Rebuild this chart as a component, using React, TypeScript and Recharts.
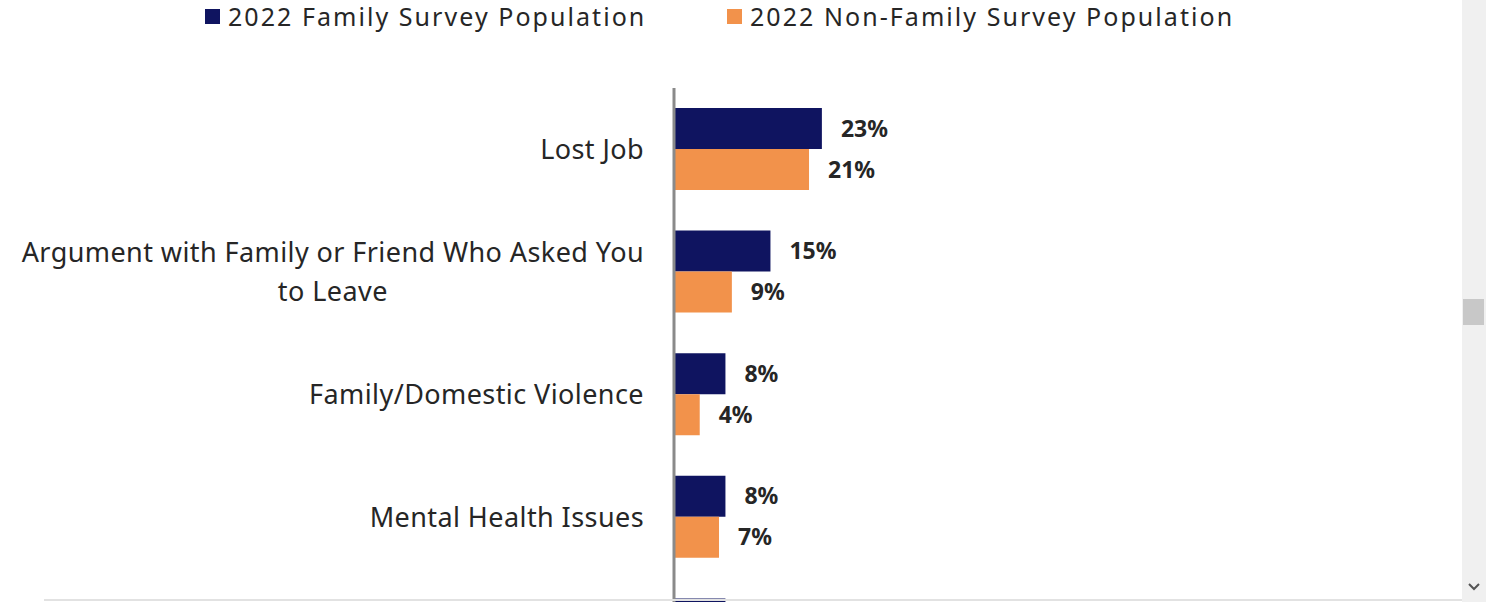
import React from 'react';
import { BarChart, Bar, XAxis, YAxis, Legend, LabelList } from 'recharts';

const categories = [
  'Lost Job',
  'Argument with Family or Friend Who Asked You\nto Leave',
  'Family/Domestic Violence',
  'Mental Health Issues',
  '',
];
const familyValues = [23, 15, 8, 8, 8];
const nonFamilyValues: (number | null)[] = [21, 9, 4, 7, null];
const shownLabelCount = 4;
const seriesNames = ['2022 Family Survey Population', '2022 Non-Family Survey Population'];
const seriesColors = ['#0f1460', '#f2924b'];

const data = categories.map((c, i) => ({
  category: c,
  family: familyValues[i],
  nonFamily: nonFamilyValues[i],
  familyLabel: i < shownLabelCount ? familyValues[i] : null,
  nonFamilyLabel: i < shownLabelCount ? nonFamilyValues[i] : null,
}));

const FONT = '"Noto Sans", "Open Sans", sans-serif';
const TICK_SIZE = 27;
const TICK_SPACING = 0.42;

let ctx: CanvasRenderingContext2D | null = null;
const measure = (t: string) => {
  if (!ctx) ctx = document.createElement('canvas').getContext('2d');
  if (!ctx) return t.length * 13;
  ctx.font = `${TICK_SIZE}px "Noto Sans"`;
  return ctx.measureText(t).width + t.length * TICK_SPACING;
};

const CategoryTick = (props: any) => {
  const { x, y, payload } = props;
  const lines = String(payload.value).split('\n');
  if (!lines[0]) return null;
  const lh = 39;
  const startY = y - ((lines.length - 1) * lh) / 2;
  const maxW = Math.max(...lines.map(measure));
  const multi = lines.length > 1;
  const cx = x - maxW / 2;
  return (
    <text fill="#262626" fontSize={TICK_SIZE} fontFamily={FONT} letterSpacing={TICK_SPACING}>
      {lines.map((l, i) => (
        <tspan key={i} x={multi ? cx : x} y={startY + i * lh} dy="0.36em" textAnchor={multi ? 'middle' : 'end'}>
          {l}
        </tspan>
      ))}
    </text>
  );
};

const LegendContent = () => (
  <div style={{ position: 'relative', height: 34, width: 1460, fontFamily: FONT }}>
    {seriesNames.map((n, i) => (
      <div
        key={n}
        style={{
          position: 'absolute',
          left: i === 0 ? 205 : 727,
          top: 1,
          height: 30,
          display: 'flex',
          alignItems: 'center',
          whiteSpace: 'nowrap',
        }}
      >
        <span style={{ width: 15, height: 15, background: seriesColors[i], display: 'inline-block', marginRight: 8 }} />
        <span style={{ fontSize: 25, lineHeight: '30px', color: '#262626', letterSpacing: 2.05 }}>{n}</span>
      </div>
    ))}
  </div>
);

const valueLabelStyle = { fontSize: 23, fontWeight: 700, fill: '#262626', fontFamily: FONT };
const fmt = (v: any) => (v == null ? '' : `${v}%`);

export default function App() {
  return (
    <div style={{ position: 'fixed', left: 0, top: 0, width: 1486, height: 602, overflow: 'hidden', background: '#fff' }}>
      <BarChart
        width={1460}
        height={701}
        data={data}
        layout="vertical"
        margin={{ top: 54, right: 143, bottom: 0, left: 0 }}
        barGap={0}
        barSize={41}
      >
        <Legend verticalAlign="top" content={<LegendContent />} wrapperStyle={{ top: 0, left: 0 }} />
        <XAxis type="number" domain={[0, 100]} hide />
        <YAxis
          type="category"
          dataKey="category"
          width={674}
          tickLine={false}
          tickSize={0}
          tickMargin={30}
          axisLine={{ stroke: '#8a8a8a', strokeWidth: 3 }}
          tick={<CategoryTick />}
          interval={0}
        />
        <Bar dataKey="family" name={seriesNames[0]} fill={seriesColors[0]} isAnimationActive={false}>
          <LabelList dataKey="familyLabel" position="right" offset={19} formatter={fmt} style={valueLabelStyle} />
        </Bar>
        <Bar dataKey="nonFamily" name={seriesNames[1]} fill={seriesColors[1]} isAnimationActive={false}>
          <LabelList dataKey="nonFamilyLabel" position="right" offset={19} formatter={fmt} style={valueLabelStyle} />
        </Bar>
      </BarChart>
      <div style={{ position: 'absolute', left: 44, top: 599, width: 1418, height: 2, background: '#e2e2e2' }} />
      <div style={{ position: 'absolute', left: 1462, top: 0, width: 24, height: 602, background: '#f0f0f0' }}>
        <div style={{ position: 'absolute', left: 1, top: 299, width: 21, height: 26, background: '#c8c8c8' }} />
        <svg style={{ position: 'absolute', left: 6, top: 582 }} width={12} height={10}>
          <polyline points="1,2 6,7 11,2" fill="none" stroke="#555" strokeWidth={2} />
        </svg>
      </div>
    </div>
  );
}
